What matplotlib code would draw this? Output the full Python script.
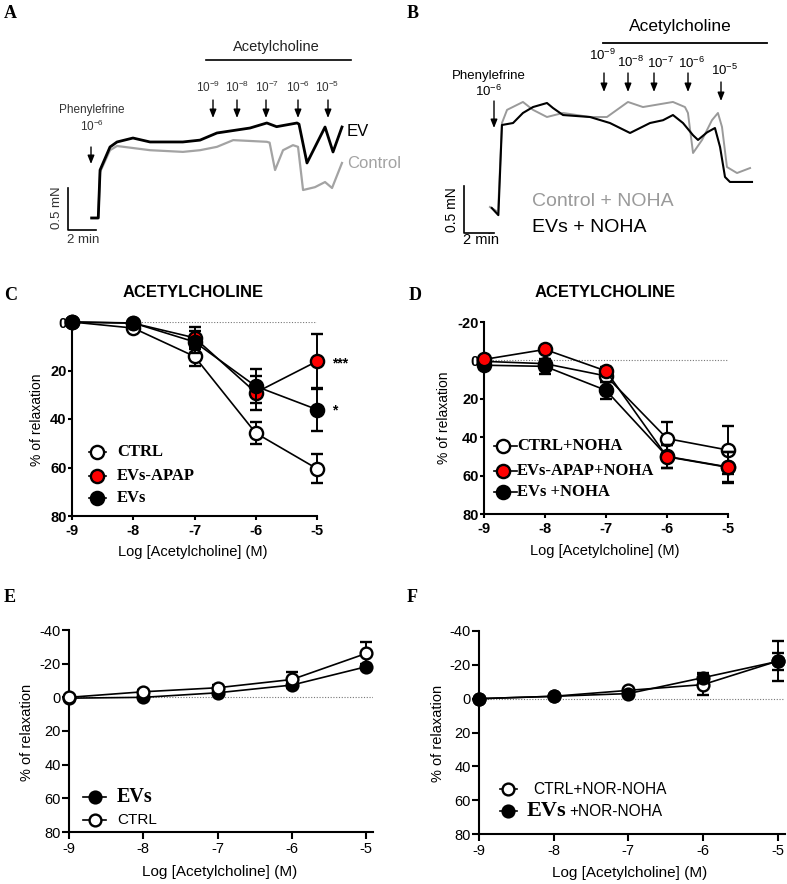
import matplotlib.pyplot as plt
from matplotlib.lines import Line2D

plt.rcParams['font.family'] = ['Liberation Sans', 'DejaVu Sans']
plt.rcParams['axes.unicode_minus'] = False
plt.rcParams['mathtext.fontset'] = 'custom'
plt.rcParams['mathtext.rm'] = 'Liberation Sans'

# ---- traces (time in min, force in mN) ----
tA_ev = [1.69, 2.16, 2.29, 3.0, 3.5, 4.64, 5.86, 8.2, 9.43, 10.64, 13.0, 14.2, 14.9,
         16.36, 16.5, 17.07, 18.36, 18.93, 19.57]
fA_ev = [0.143, 0.143, 0.714, 0.988, 1.048, 1.095, 1.048, 1.048, 1.07, 1.155, 1.214,
         1.274, 1.23, 1.274, 1.26, 0.798, 1.226, 0.929, 1.226]
tA_ctrl = [1.69, 2.16, 2.29, 3.0, 3.5, 4.64, 5.86, 8.21, 9.43, 10.64, 11.8, 14.2, 14.4,
           14.79, 15.36, 16.07, 16.43, 16.79, 17.64, 18.36, 18.86, 19.57]
fA_ctrl = [0.143, 0.143, 0.69, 0.95, 1.0, 0.976, 0.95, 0.93, 0.95, 0.99, 1.07, 1.05, 1.04,
           0.714, 0.95, 1.01, 0.99, 0.476, 0.51, 0.571, 0.5, 0.798]

tB_ev = [1.85, 2.29, 2.53, 3.27, 3.93, 4.6, 5.53, 5.93, 6.6, 8.4, 9.73, 11.07, 12.4, 13.27,
         13.93, 14.6, 15.27, 15.6, 16.2, 16.73, 17.07, 17.4, 17.73, 19.2]
fB_ev = [0.266, 0.19, 1.149, 1.17, 1.277, 1.34, 1.383, 1.33, 1.255, 1.234, 1.17, 1.064, 1.17,
         1.2, 1.255, 1.17, 1.04, 0.99, 1.07, 1.117, 0.915, 0.596, 0.543, 0.543]
tB_ctrl = [1.73, 2.27, 2.53, 2.87, 3.93, 4.6, 5.53, 6.6, 8.4, 9.53, 10.93, 11.93, 13.93,
           14.73, 14.93, 15.27, 15.87, 16.53, 16.93, 17.2, 17.53, 18.2, 19.07]
fB_ctrl = [0.277, 0.223, 1.17, 1.31, 1.394, 1.31, 1.234, 1.277, 1.234, 1.234, 1.394, 1.34,
           1.394, 1.34, 1.277, 0.851, 0.99, 1.2, 1.277, 1.128, 0.702, 0.638, 0.691]

doses = ['10^{-9}', '10^{-8}', '10^{-7}', '10^{-6}', '10^{-5}']

# ---- concentration-response curves ----
log_ach = [-9, -8, -7, -6, -5]

c_ctrl = [0, 2.5, 14.2, 45.8, 60.5]
c_ctrl_err = [0.5, 1, 4, 4.5, 6]
c_apap = [0, 0.5, 6.5, 29.1, 16.2]
c_apap_err = [0.5, 0.5, 4.5, 7, 11.4]
c_evs = [0, 0.4, 8.2, 26.5, 36.1]
c_evs_err = [0.5, 0.5, 4.5, 7, 9]

d_ctrl = [0.5, 1.7, 8.1, 40.7, 46.7]
d_ctrl_err = [1, 2, 3, 8.5, 12.5]
d_apap = [-0.5, -5.7, 5.5, 50.2, 55.7]
d_apap_err = [1, 1.5, 2, 6, 8]
d_evs = [2.5, 3.1, 15.6, 50.0, 55.5]
d_evs_err = [2, 4, 4.5, 6, 8]

e_evs = [0.5, 0, -2.7, -7.3, -18.2]
e_evs_err = [0.5, 0.5, 1, 1.5, 1.5]
e_ctrl = [0, -3.3, -5.7, -10.6, -26.1]
e_ctrl_err = [0.5, 1, 1.5, 4.6, 7]

f_ctrl = [0, -1.4, -4.9, -8.3, -22.2]
f_ctrl_err = [0.5, 0.5, 1, 6.3, 12]
f_evs = [0, -1.4, -3.0, -12.4, -22.0]
f_evs_err = [0.5, 0.5, 1, 3, 5]

W, H = 787, 884
fig = plt.figure(figsize=(7.87, 8.84), dpi=100)
SERIF = 'Liberation Serif'


def fx(x):
    return x / W


def fy(y):
    return 1 - y / H


def ftext(x, y, s, **kw):
    kw.setdefault('ha', 'center')
    kw.setdefault('va', 'center')
    return fig.text(fx(x), fy(y), s, **kw)


def fline(xs, ys, **kw):
    fig.add_artist(Line2D([fx(v) for v in xs], [fy(v) for v in ys],
                          transform=fig.transFigure, **kw))


def farrow(ax, x, y1, y2, color='black'):
    ax.annotate('', xy=(fx(x), fy(y2)), xytext=(fx(x), fy(y1)),
                xycoords='figure fraction', textcoords='figure fraction',
                arrowprops=dict(arrowstyle='-|>,head_length=0.5,head_width=0.2',
                                color=color, lw=1.0, shrinkA=0, shrinkB=0))


def trace_axes(l, t, r, b, x0, y0, ppm, ppn):
    ax = fig.add_axes([fx(l), fy(b), (r - l) / W, (b - t) / H])
    ax.set_xlim((l - x0) / ppm, (r - x0) / ppm)
    ax.set_ylim((y0 - b) / ppn, (y0 - t) / ppn)
    ax.axis('off')
    # scale bars: 2 min, 0.5 mN
    ax.plot([0, 0, 2], [0.5, 0, 0], color='black', lw=1.2, clip_on=False)
    return ax


# ---------- A ----------
axA = trace_axes(30, 20, 385, 265, 68, 230, 14, 84)
axA.plot(tA_ctrl, fA_ctrl, color='#a3a3a3', lw=1.6)
axA.plot(tA_ev, fA_ev, color='black', lw=2.0)
ftext(57, 208, '0.5 mN', rotation=90, fontsize=9.5, color='#333333')
ftext(83, 240, '2 min', fontsize=9.5, color='#333333')
ftext(347, 132, 'EV', fontsize=12, ha='left')
ftext(347, 163, 'Control', fontsize=12, ha='left', color='#a3a3a3')
ftext(92, 110, 'Phenylefrine', fontsize=8.5, color='#333333')
ftext(92, 126, r'$\mathrm{10^{-6}}$', fontsize=8.5, color='#333333')
farrow(axA, 91, 147, 164)
fline([206, 351], [60, 60], color='black', lw=1.2)
ftext(276, 47, 'Acetylcholine', fontsize=10.5, color='#222222')
for xa, xl, d in zip([213, 237, 266, 298, 328], [208, 237, 267, 298, 327], doses):
    ftext(xl, 87, r'$\mathrm{' + d + '}$', fontsize=8.5, color='#333333')
    farrow(axA, xa, 100, 118)
ftext(10, 13, 'A', fontsize=13, fontweight='bold', family=SERIF)

# ---------- B ----------
axB = trace_axes(440, 20, 787, 265, 464, 233, 15, 94)
axB.plot(tB_ctrl, fB_ctrl, color='#9a9a9a', lw=1.4)
axB.plot(tB_ev, fB_ev, color='black', lw=1.5)
ftext(452, 210, '0.5 mN', rotation=90, fontsize=10)
ftext(481, 240, '2 min', fontsize=10.5)
ftext(532, 202, 'Control + NOHA', fontsize=14, ha='left', color='#9a9a9a')
ftext(532, 227, 'EVs + NOHA', fontsize=14, ha='left')
ftext(489, 76, 'Phenylefrine', fontsize=9.5)
ftext(489, 91, r'$\mathrm{10^{-6}}$', fontsize=9.5)
farrow(axB, 494, 101, 128)
fline([603, 767], [43, 43], color='black', lw=1.3)
ftext(680, 27, 'Acetylcholine', fontsize=12.5)
for xa, xl, yl, ya, d in zip([604, 628, 654, 688, 721], [602, 631, 660, 692, 725],
                             [55, 62, 63, 63, 70], [73, 73, 73, 73, 82], doses):
    ftext(xl, yl, r'$\mathrm{' + d + '}$', fontsize=9.5)
    farrow(axB, xa, ya, ya + 19)
ftext(413, 13, 'B', fontsize=13, fontweight='bold', family=SERIF)


# ---------- curves ----------
def dose_axes(l, t, r, b, xmax, ylim, yticks, bold):
    ax = fig.add_axes([fx(l), fy(b), (r - l) / W, (b - t) / H])
    ax.set_xlim(-9, xmax)
    ax.set_ylim(*ylim)
    ax.spines[['top', 'right']].set_visible(False)
    ax.spines[['left', 'bottom']].set_linewidth(1.5)
    ax.set_xticks(log_ach)
    ax.set_yticks(yticks)
    w = 'bold' if bold else 'normal'
    fs = 10.5
    ax.set_xticklabels([str(v) for v in log_ach], fontweight=w, fontsize=fs)
    ax.set_yticklabels([str(v) for v in yticks], fontweight=w, fontsize=fs)
    ax.tick_params(direction='out', length=3 if bold else 5, width=1.5)
    ax.tick_params(axis='y', pad=1)
    ax.tick_params(axis='x', pad=2.5)
    ax.axhline(0, color='#777777', lw=0.8, ls=(0, (1, 1.5)), zorder=0)
    return ax


def curve(ax, y, err, mfc, z, ms):
    cont = ax.errorbar(log_ach, y, yerr=err, fmt='-o', color='black', mfc=mfc,
                       mec='black', ms=ms, mew=1.7, lw=1.2, capsize=4,
                       capthick=1.4, elinewidth=1.4, zorder=z)
    for art in cont.get_children():
        art.set_clip_on(False)


def labels(ax, yl, xl, fs=10):
    ax.set_ylabel('% of relaxation', fontsize=fs, va='center')
    ax.yaxis.set_label_coords(fx(yl[0]), fy(yl[1]), transform=fig.transFigure)
    ax.set_xlabel('Log [Acetylcholine] (M)', fontsize=fs + 0.5, va='center')
    ax.xaxis.set_label_coords(fx(xl[0]), fy(xl[1]), transform=fig.transFigure)


def handle(xm, y, x0, x1, mfc, ms):
    fline([x0, x1], [y, y], color='black', lw=1.2)
    fline([xm], [y], marker='o', ms=ms, mfc=mfc, mec='black', mew=1.7)


MS_CD, MS_EF = 9.5, 8.5

# C
axC = dose_axes(72, 322, 317, 516, -5, (80, 0), [0, 20, 40, 60, 80], True)
curve(axC, c_ctrl, c_ctrl_err, 'white', 3, MS_CD)
curve(axC, c_apap, c_apap_err, 'red', 4, MS_CD)
curve(axC, c_evs, c_evs_err, 'black', 5, MS_CD)
labels(axC, (37, 420), (193, 552))
ftext(340, 363, '***', fontsize=10, fontweight='bold')
ftext(335, 410, '*', fontsize=10, fontweight='bold')
ftext(193, 293, 'ACETYLCHOLINE', fontsize=12, fontweight='bold')
ftext(11, 296, 'C', fontsize=13, fontweight='bold', family=SERIF)
for yy, mfc, s in zip([452, 476, 498], ['white', 'red', 'black'], ['CTRL', 'EVs-APAP', 'EVs']):
    handle(97, yy, 89, 106, mfc, MS_CD)
    ftext(117, yy, s, ha='left', fontsize=12, fontweight='bold', family=SERIF)

# D
axD = dose_axes(484, 322, 728, 514, -5, (80, -20), [-20, 0, 20, 40, 60, 80], True)
curve(axD, d_ctrl, d_ctrl_err, 'white', 3, MS_CD)
curve(axD, d_evs, d_evs_err, 'black', 4, MS_CD)
curve(axD, d_apap, d_apap_err, 'red', 5, MS_CD)
labels(axD, (444, 418), (605, 551))
ftext(605, 293, 'ACETYLCHOLINE', fontsize=12, fontweight='bold')
ftext(415, 296, 'D', fontsize=13, fontweight='bold', family=SERIF)
for yy, mfc, s in zip([446, 471, 492], ['white', 'red', 'black'],
                      ['CTRL+NOHA', 'EVs-APAP+NOHA', 'EVs +NOHA']):
    handle(503, yy, 494, 517, mfc, MS_CD)
    ftext(517, yy, s, ha='left', fontsize=12, fontweight='bold', family=SERIF)

# E
axE = dose_axes(69, 630, 373, 832, -4.91, (80, -40), [-40, -20, 0, 20, 40, 60, 80], False)
curve(axE, e_evs, e_evs_err, 'black', 3, MS_EF)
curve(axE, e_ctrl, e_ctrl_err, 'white', 4, MS_EF)
labels(axE, (27, 732), (220, 872), fs=10.5)
ftext(10, 597, 'E', fontsize=13, fontweight='bold', family=SERIF)
handle(95, 797, 83, 106, 'black', MS_EF)
ftext(117, 797, 'EVs', ha='left', fontsize=14.5, fontweight='bold', family=SERIF)
handle(95, 820, 83, 106, 'white', MS_EF)
ftext(117, 820, 'CTRL', ha='left', fontsize=11)

# F
axF = dose_axes(479, 631, 785, 834, -4.9, (80, -40), [-40, -20, 0, 20, 40, 60, 80], False)
curve(axF, f_ctrl, f_ctrl_err, 'white', 3, MS_EF)
curve(axF, f_evs, f_evs_err, 'black', 4, MS_EF)
labels(axF, (438, 733), (630, 873), fs=10.5)
ftext(412, 597, 'F', fontsize=13, fontweight='bold', family=SERIF)
handle(508, 789, 500, 517, 'white', MS_EF)
ftext(533, 789, 'CTRL+NOR-NOHA', ha='left', fontsize=11.2)
handle(508, 811, 500, 517, 'black', MS_EF)
ftext(527, 811, 'EVs', ha='left', fontsize=16, fontweight='bold', family=SERIF)
ftext(569, 812, '+NOR-NOHA', ha='left', fontsize=11.2)

fig.savefig('out.png', dpi=100)
